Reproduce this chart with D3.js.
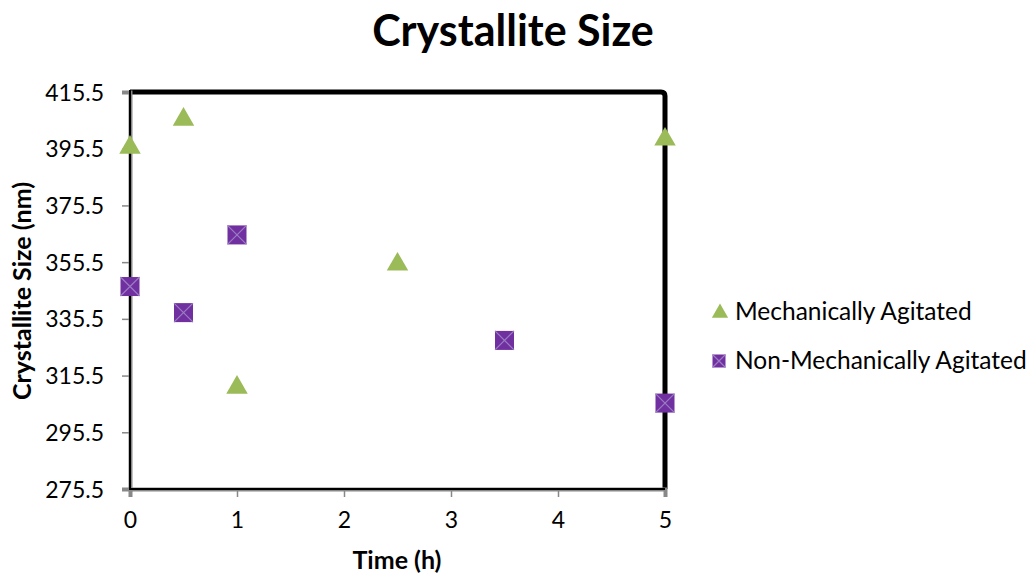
<!DOCTYPE html>
<html>
<head>
<meta charset="utf-8">
<script src="https://cdn.jsdelivr.net/npm/d3@7"></script>
<style>
  body { margin: 0; background: #fff; }
  text { font-family: Lato, "Open Sans", sans-serif; fill: #000; }
</style>
</head>
<body>
<div id="mychart"></div>
<script>
// series values
const mechTime = [0, 0.5, 1, 2.5, 5];
const mechSize = [396.8, 406.7, 312.2, 355.6, 399.7];
const nonMechTime = [0, 0.5, 1, 3.5, 5];
const nonMechSize = [346.9, 337.7, 365.1, 327.9, 305.8];
const yTicks = [275.5, 295.5, 315.5, 335.5, 355.5, 375.5, 395.5, 415.5];
const xTicks = [0, 1, 2, 3, 4, 5];
const seriesNames = ["Mechanically Agitated", "Non-Mechanically Agitated"];

const width = 1029, height = 575;
const margin = { top: 92, right: 365, bottom: 86, left: 130 };

const svg = d3.select("#mychart").append("svg")
    .attr("width", width)
    .attr("height", height);

const x = d3.scaleLinear().domain([0, 5]).range([margin.left, width - margin.right + 1]);
const y = d3.scaleLinear().domain([275.5, 415.5]).range([height - margin.bottom, margin.top]);

// title
svg.append("text")
    .attr("x", 513).attr("y", 46)
    .attr("text-anchor", "middle")
    .style("font-size", "43px").style("font-weight", "bold")
    .text("Crystallite Size");

// plot frame: thick black on top/right
const x0 = x(0), x1 = x(5), yTop = y(415.5), yBot = y(275.5);
svg.append("path")
    .attr("d", `M${x0},${yTop} L${x1 - 4},${yTop} Q${x1},${yTop} ${x1},${yTop + 4} L${x1},${yBot}`)
    .attr("fill", "none").attr("stroke", "#000").attr("stroke-width", 5);

// axes
const yAxis = svg.append("g")
    .attr("transform", `translate(${x0},0)`)
    .call(d3.axisLeft(y).tickValues(yTicks).tickSize(8).tickPadding(18).tickFormat(d3.format(".1f")));
const xAxis = svg.append("g")
    .attr("transform", `translate(0,${yBot})`)
    .call(d3.axisBottom(x).tickValues(xTicks).tickSize(8).tickPadding(15).tickFormat(d3.format("d")));

[yAxis, xAxis].forEach(g => {
    g.select(".domain").attr("stroke", "#888").attr("stroke-width", 4);
    g.selectAll(".tick line").attr("stroke", "#888").attr("stroke-width", 1.5);
    g.selectAll(".tick text").style("font-size", "23px").attr("fill", "#000")
        .style("font-family", "Lato, 'Open Sans', sans-serif");
});
yAxis.selectAll(".tick text").attr("dy", "0.35em");

// black core of the axis lines
svg.append("line").attr("x1", x0).attr("x2", x0).attr("y1", yTop - 2).attr("y2", yBot + 1)
    .attr("stroke", "#000").attr("stroke-width", 2);
svg.append("line").attr("x1", x0).attr("x2", x1).attr("y1", yBot).attr("y2", yBot)
    .attr("stroke", "#000").attr("stroke-width", 2);

// axis titles
svg.append("text")
    .attr("transform", `translate(31,291) rotate(-90)`)
    .attr("text-anchor", "middle")
    .style("font-size", "25px").style("font-weight", "bold")
    .text("Crystallite Size (nm)");
svg.append("text")
    .attr("x", 397).attr("y", 569)
    .attr("text-anchor", "middle")
    .style("font-size", "25px").style("font-weight", "bold")
    .text("Time (h)");

// markers
const tri = d3.symbol().type(d3.symbolTriangle).size(200);
function drawSquare(g, cx, cy, s) {
    g.append("rect").attr("x", cx - s / 2).attr("y", cy - s / 2).attr("width", s).attr("height", s)
        .attr("fill", "#7030a0");
    g.append("path")
        .attr("d", `M${cx - s / 2},${cy - s / 2}L${cx + s / 2},${cy + s / 2}M${cx + s / 2},${cy - s / 2}L${cx - s / 2},${cy + s / 2}`)
        .attr("stroke", "#9c7cc4").attr("stroke-width", 1.2);
}

svg.append("g").selectAll("path")
    .data(mechTime.map((t, i) => [t, mechSize[i]]))
    .enter().append("path")
    .attr("d", tri)
    .attr("transform", d => `translate(${x(d[0])},${y(d[1]) + 2.5})`)
    .attr("fill", "#9bbb59");

const sq = svg.append("g");
nonMechTime.forEach((t, i) => drawSquare(sq, x(t), y(nonMechSize[i]), 19));

// legend
const leg = svg.append("g");
leg.append("path").attr("d", d3.symbol().type(d3.symbolTriangle).size(115))
    .attr("transform", "translate(720,313)").attr("fill", "#9bbb59");
leg.append("text").attr("x", 735).attr("y", 320).style("font-size", "24.5px").text(seriesNames[0]);
drawSquare(leg, 719, 361, 13);
leg.append("text").attr("x", 735).attr("y", 369).style("font-size", "24.5px").text(seriesNames[1]);
</script>
</body>
</html>
